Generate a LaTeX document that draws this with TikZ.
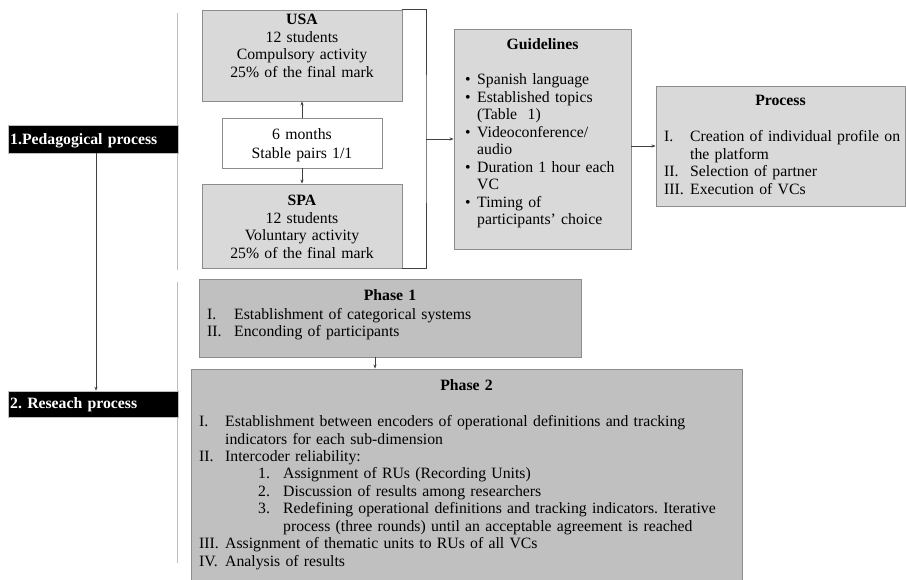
\documentclass[tikz,border=0pt]{standalone}
\usepackage{fontspec}
\setmainfont{Liberation Serif}
\usetikzlibrary{arrows.meta}
\definecolor{boxlight}{HTML}{D9D9D9}
\definecolor{boxdark}{HTML}{C0C0C0}
\definecolor{edgegray}{HTML}{8C8C8C}
\definecolor{sepgray}{HTML}{BDBDBD}
\frenchspacing
\begin{document}
\begin{tikzpicture}[x=1pt,y=-1pt,
  txt/.style={font=\fontsize{15.75}{17.5}\selectfont, inner sep=0pt, align=left, text width=#1},
  txt/.default=300pt,
  ctxt/.style={font=\fontsize{15.75}{17.5}\selectfont, inner sep=0pt, align=center, text width=#1},
  lightbox/.style={draw=edgegray, fill=boxlight, line width=0.9pt, minimum width=#1, inner sep=0pt},
  darkbox/.style={draw=edgegray, fill=boxdark, line width=0.9pt, inner sep=0pt},
  whitebox/.style={draw=edgegray, fill=white, line width=0.9pt, inner sep=0pt},
  label/.style={fill=black, draw=sepgray, line width=0.6pt, minimum width=170pt, inner sep=0pt},
  conn/.style={draw=black!75, line width=0.7pt},
  arr/.style={conn, -{Stealth[length=4pt,width=3.2pt]}},
  sep/.style={draw=sepgray, line width=0.8pt}
]
\useasboundingbox (0,0) rectangle (906,580);
\clip (0,0) rectangle (906,580);

% separators
\draw[sep] (177,13) -- (177,270);
\draw[sep] (177,282) -- (177,563);

% left labels
\node[label, minimum height=28pt] (lab1) at (93,139) {};
\node[label, minimum height=26pt] (lab2) at (93,404) {};
\node[txt=170pt, anchor=base west, text=white, font=\fontsize{15.75}{17.5}\selectfont\bfseries] (lab1t) at (10,144.5) {1.Pedagogical process};
\node[txt=170pt, anchor=base west, text=white, font=\fontsize{15.75}{17.5}\selectfont\bfseries] (lab2t) at (10,409) {2. Reseach process};

% top group
\node[lightbox=200pt, minimum height=91pt] (usa) at (302,55.5) {};
\node[whitebox, minimum width=160pt, minimum height=50pt] (mid) at (302,143) {};
\node[lightbox=200pt, minimum height=84pt] (spa) at (302,226) {};
\node[ctxt=200pt, anchor=base] (usat) at (302,25) {\textbf{USA}\\12 students\\Compulsory activity\\25\% of the final mark};
\node[ctxt=160pt, anchor=base, font=\fontsize{15.75}{18.5}\selectfont] (midt) at (302,140) {6 months\\Stable pairs 1/1};
\node[ctxt=200pt, anchor=base] (spat) at (302,206) {\textbf{SPA}\\12 students\\Voluntary activity\\25\% of the final mark};

% guidelines
\node[lightbox=177pt, minimum height=220pt] (guide) at (542.5,139) {};
\node[ctxt=177pt, anchor=base] (guidet) at (542.5,50) {\textbf{Guidelines}};
\node[txt=165pt, anchor=base west] (guidel) at (465,85) {%
\makebox[12pt][l]{\textbullet}Spanish language\\
\makebox[12pt][l]{\textbullet}Established topics\\
\hspace*{12pt}(Table~~1)\\
\makebox[12pt][l]{\textbullet}Videoconference/\\
\hspace*{12pt}audio\\
\makebox[12pt][l]{\textbullet}Duration 1 hour each\\
\hspace*{12pt}VC\\
\makebox[12pt][l]{\textbullet}Timing of\\
\hspace*{12pt}participants' choice};

% process
\node[lightbox=249pt, minimum height=120pt] (proc) at (780.5,146) {};
\node[ctxt=249pt, anchor=base] (proct) at (780.5,106) {\textbf{Process}};
\node[txt=240pt, anchor=base west] (procl) at (664,142) {%
\makebox[26pt][l]{I.}Creation of individual profile on\\
\hspace*{26pt}the platform\\
\makebox[26pt][l]{II.}Selection of partner\\
\makebox[26pt][l]{III.}Execution of VCs};

% phases
\node[darkbox, minimum width=382pt, minimum height=78pt] (ph1) at (390,318) {};
\node[ctxt=382pt, anchor=base] (ph1t) at (390,301) {\textbf{Phase 1}};
\node[txt=360pt, anchor=base west] (ph1l) at (207,319.5) {%
\makebox[27pt][l]{I.}Establishment of categorical systems\\
\makebox[27pt][l]{II.}Enconding of participants};

\node[darkbox, minimum width=551pt, minimum height=225pt] (ph2) at (466.5,481.5) {};
\node[ctxt=551pt, anchor=base] (ph2t) at (466.5,391) {\textbf{Phase 2}};
\node[txt=540pt, anchor=base west] (ph2l) at (199,426.5) {%
\makebox[26pt][l]{I.}Establishment between encoders of operational definitions and tracking\\
\hspace*{26pt}indicators for each sub-dimension\\
\makebox[26pt][l]{II.}Intercoder reliability:\\
\hspace*{59pt}\makebox[25pt][l]{1.}Assignment of RUs (Recording Units)\\
\hspace*{59pt}\makebox[25pt][l]{2.}Discussion of results among researchers\\
\hspace*{59pt}\makebox[25pt][l]{3.}Redefining operational definitions and tracking indicators. Iterative\\
\hspace*{84pt}process (three rounds) until an acceptable agreement is reached\\
\makebox[26pt][l]{III.}Assignment of thematic units to RUs of all VCs\\
\makebox[26pt][l]{IV.}Analysis of results};

% connectors
\draw[arr] (mid.north) -- (usa.south);
\draw[arr] (mid.south) -- (spa.north);
\coordinate (brk) at (426,139);
\draw[conn] (usa.north east) -| (brk) |- (spa.south east);
\draw[arr] (brk) -- (guide.west);
\draw[arr] (guide.east |- proc.west) -- (proc.west);
\draw[arr] ([xshift=3pt]lab1.south) -- ([xshift=3pt]lab2.north);
\coordinate (p12) at (375,357);
\draw[arr] (p12) -- (p12 |- ph2.north);
\end{tikzpicture}
\end{document}
